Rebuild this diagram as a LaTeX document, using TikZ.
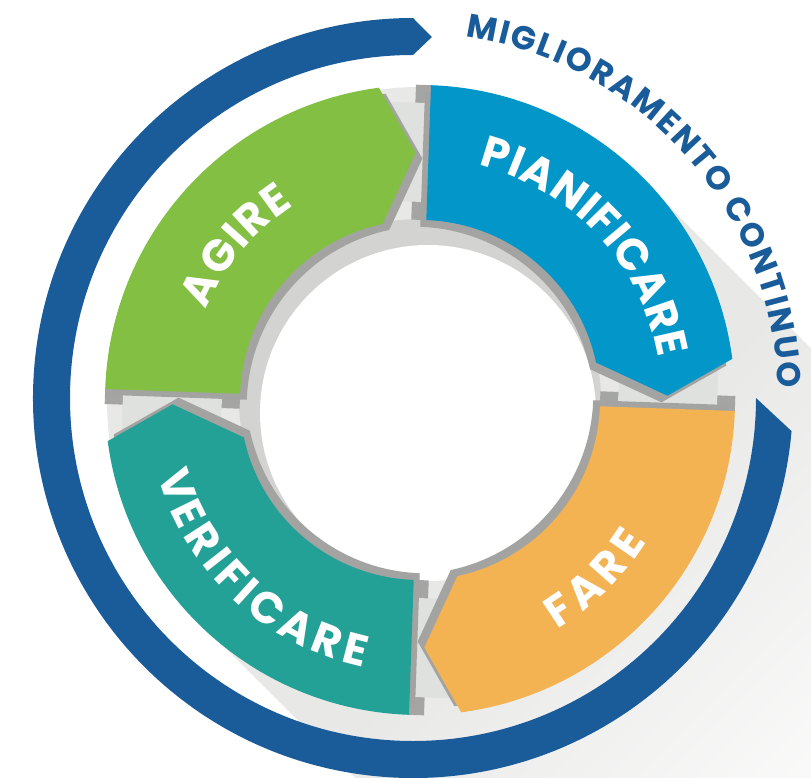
\documentclass[tikz,border=0pt]{standalone}
\usepackage{fontspec}
\newfontfamily\pdcafont{Poppins}
\usetikzlibrary{decorations.text}

\definecolor{pdblue}{HTML}{0396C9}
\definecolor{pdorange}{HTML}{F3B352}
\definecolor{pdteal}{HTML}{24A196}
\definecolor{pdgreen}{HTML}{83BF43}
\definecolor{arcblue}{HTML}{1A5C9A}
\definecolor{jointlight}{HTML}{DFE1DE}
\definecolor{jointdark}{HTML}{A5A6A4}
\definecolor{shadowdark}{HTML}{A3A4A2}
\definecolor{shadowlight}{HTML}{E8E8E7}
\definecolor{holegray}{HTML}{D3D3D2}

\tikzset{
  pdcaseg/.style={insert path={(#1:180) -- (#1:315) arc[start angle=#1, end angle=#1-80.5, radius=315]
    -- (#1-87:247.5) -- (#1-76:180) arc[start angle=#1-76, end angle=#1, radius=180] -- cycle}},
  curvedlabel/.style={decorate, decoration={text along path, text align={fit to path}, text color=white,
    text={|\pdcafont\bfseries\fontsize{44}{50}\selectfont|#1}}}
}

\begin{document}
\begin{tikzpicture}[x=1pt,y=1pt]
\useasboundingbox (0,0) rectangle (811,-778);

\begin{scope}[shift={(420,-400)}]
% long shadow and hole
\shade[top color=shadowlight, bottom color=white, middle color=shadowlight, shading angle=45]
  (45:313) arc[start angle=45, end angle=225, radius=313] -- ++(260,-260)
  arc[start angle=225, end angle=405, radius=313] -- cycle;
\fill[holegray] (0,0) circle[radius=181];
\fill[white] (8,-13) circle[radius=168];

% joints
\foreach \a in {88,-2,-92,178}{
  \fill[jointdark, rotate=\a] (180,0) rectangle (315,15);
  \fill[jointlight, rotate=\a] (198,2) rectangle (297,40);
}

% segments
\foreach \a/\col in {88/pdblue,-2/pdorange,-92/pdteal,178/pdgreen}{
  \fill[shadowdark, shift={(\a-40:-9)}] [pdcaseg=\a];
  \fill[\col] [pdcaseg=\a];
}

\path[curvedlabel=PIANIFICARE] (76:242) arc[start angle=76, end angle=10, radius=242];
\path[curvedlabel=FARE] (-59:267) arc[start angle=-59, end angle=-32, radius=267];
\path[curvedlabel=VERIFICARE] (196:273) arc[start angle=196, end angle=258, radius=273];
\path[curvedlabel=AGIRE] (157:232) arc[start angle=157, end angle=123, radius=232];
\end{scope}

% outer arrow
\begin{scope}[shift={(413,-398)}]
\fill[arcblue] (0:343) -- (-5:380) arc[start angle=-5, end angle=-270, radius=380]
  -- (-273:361.5) -- (-270:343) arc[start angle=-270, end angle=0, radius=343] -- cycle;
\path[decorate, decoration={text along path, text align={fit to path}, text color=arcblue,
  text={|\pdcafont\bfseries\fontsize{33}{38}\selectfont|MIGLIORAMENTO CONTINUO}}]
  (81.7:365) arc[start angle=81.7, end angle=1.6, radius=365];
\end{scope}
\end{tikzpicture}
\end{document}
